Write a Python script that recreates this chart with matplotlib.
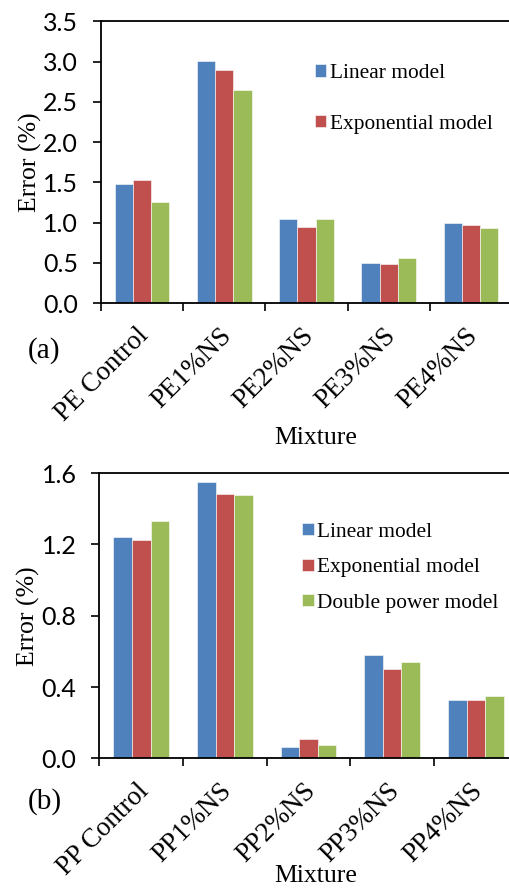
import matplotlib
matplotlib.use("Agg")
import matplotlib.pyplot as plt
import numpy as np

# Data
PE_MIXES = ["PE Control", "PE1%NS", "PE2%NS", "PE3%NS", "PE4%NS"]
PP_MIXES = ["PP Control", "PP1%NS", "PP2%NS", "PP3%NS", "PP4%NS"]
MODELS = ["Linear model", "Exponential model", "Double power model"]

PE_LINEAR = [1.48, 3.01, 1.04, 0.50, 0.99]
PE_EXPONENTIAL = [1.53, 2.90, 0.95, 0.49, 0.97]
PE_DOUBLE_POWER = [1.26, 2.65, 1.04, 0.56, 0.93]

PP_LINEAR = [1.24, 1.55, 0.065, 0.58, 0.33]
PP_EXPONENTIAL = [1.225, 1.485, 0.107, 0.50, 0.325]
PP_DOUBLE_POWER = [1.33, 1.475, 0.075, 0.54, 0.35]

COLORS = ["#4F81BD", "#C0504D", "#9BBB59"]
SERIF = "Liberation Serif"
SANS = "Lato"
BAR_W = 1 / 4.5


def draw_panel(ax, mixes, series, ymax, ystep, n_legend, legend_anchor, legend_spacing):
    x = np.arange(len(mixes))
    for i, (vals, color, name) in enumerate(zip(series, COLORS, MODELS)):
        label = name if i < n_legend else "_nolegend_"
        ax.bar(x + (i - 1) * BAR_W, vals, BAR_W, color=color, label=label,
               edgecolor="white", linewidth=0.4)
    ax.set_xlim(-0.5, len(mixes) - 0.5)
    ax.set_ylim(0, ymax)
    yt = np.arange(0, ymax + 1e-9, ystep)
    ax.set_yticks(yt)
    ax.set_yticklabels([f"{v:.1f}" for v in yt], family=SANS, fontsize=18)
    ax.set_xticks(np.arange(-0.5, len(mixes), 1.0))
    ax.set_xticklabels([])
    ax.tick_params(axis="both", direction="out", length=5.5, width=1.2)
    ax.tick_params(axis="y", pad=11)
    for side in ["left", "bottom", "top"]:
        ax.spines[side].set_linewidth(1.3)
    ax.spines["right"].set_visible(False)
    for xi, name in zip(x, mixes):
        ax.annotate(name, xy=(xi + 0.04, 0), xycoords=("data", "axes fraction"),
                    xytext=(0, -21), textcoords="offset points",
                    rotation=45, ha="right", va="center", rotation_mode="anchor",
                    family=SERIF, fontsize=19.5)
    ax.set_ylabel("Error (%)", family=SERIF, fontsize=18.5, labelpad=1)
    ax.legend(loc="upper left", bbox_to_anchor=legend_anchor, frameon=False,
              prop={"family": SERIF, "size": 15.4}, handlelength=0.55,
              handleheight=0.5, handletextpad=0.15, labelspacing=legend_spacing,
              borderpad=0, borderaxespad=0)


fig = plt.figure(figsize=(5.10, 8.89), dpi=100)

ax1 = fig.add_axes([0.198, 0.659, 0.806, 0.317])
draw_panel(ax1, PE_MIXES, [PE_LINEAR, PE_EXPONENTIAL, PE_DOUBLE_POWER],
           3.5, 0.5, 2, (0.52, 0.848), 1.48)

ax2 = fig.add_axes([0.195, 0.147, 0.820, 0.3207])
draw_panel(ax2, PP_MIXES, [PP_LINEAR, PP_EXPONENTIAL, PP_DOUBLE_POWER],
           1.6, 0.4, 3, (0.485, 0.826), 0.77)

fig.text(0.62, 1 - 438 / 889, "Mixture", family=SERIF, fontsize=18.5,
         ha="center", va="center")
fig.text(0.62, 1 - 876 / 889, "Mixture", family=SERIF, fontsize=18.5,
         ha="center", va="center")
fig.text(0.055, 1 - 351 / 889, "(a)", family=SERIF, fontsize=21,
         ha="left", va="center")
fig.text(0.055, 1 - 802 / 889, "(b)", family=SERIF, fontsize=21,
         ha="left", va="center")

fig.savefig("out.png", dpi=100)
